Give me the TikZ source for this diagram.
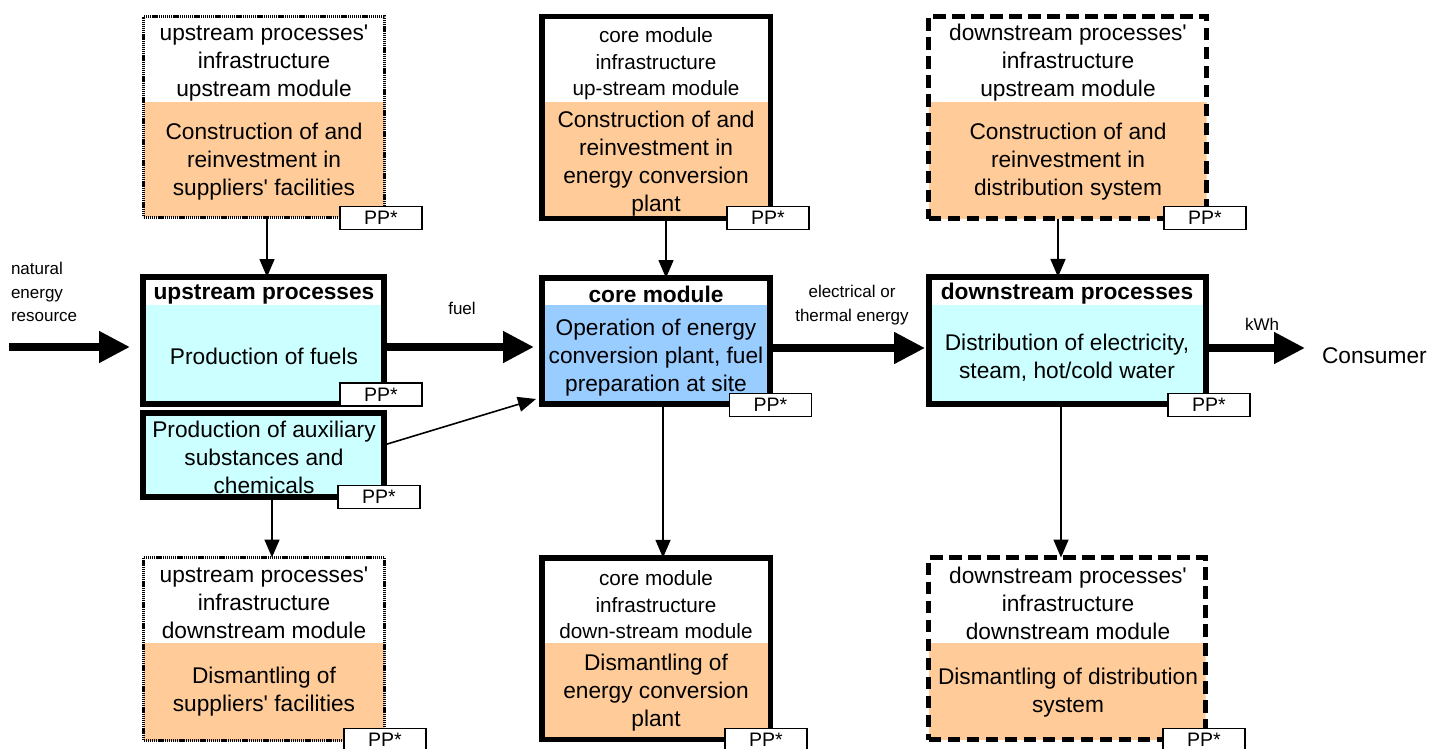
\documentclass[tikz,border=0pt]{standalone}
\usepackage{fontspec}
\setmainfont{Liberation Sans}
\usetikzlibrary{arrows.meta}
\definecolor{peach}{HTML}{FFCC99}
\definecolor{lcyan}{HTML}{CCFFFF}
\definecolor{lblue}{HTML}{99CCFF}
\begin{document}
\begin{tikzpicture}[x=1pt,y=-1pt,
  every node/.style={inner sep=0pt, outer sep=0pt},
  bigtxt/.style={font=\fontsize{22.7}{28}\selectfont, align=center},
  hdrtxt/.style={font=\fontsize{20.7}{26.5}\selectfont, align=center},
  boldtxt/.style={font=\bfseries\fontsize{22.7}{28}\selectfont},
  smalltxt/.style={font=\fontsize{17}{23.5}\selectfont},
  frame/.style={rectangle, draw, fill=white},
  solidframe/.style={frame, line width=5.5pt},
  dotframe/.style={frame, line width=3pt, dash pattern=on 1.3pt off 0.8pt},
  dashframe/.style={frame, line width=5pt, dash pattern=on 12.5pt off 6.5pt},
  lowerfill/.style 2 args={path picture={\fill[#1] ([yshift=-#2]path picture bounding box.north west) rectangle (path picture bounding box.south east);}},
  ppbox/.style={rectangle, draw, line width=1.5pt, fill=white, minimum width=82pt, minimum height=23pt, font=\fontsize{19.5}{21}\selectfont},
  thinarrow/.style={line width=1.6pt, -{Triangle[length=18pt,width=15pt]}},
  bigarrow/.style={line width=7.5pt, -{Triangle[length=31pt,width=30pt]}}
]
\useasboundingbox (0,0) rectangle (1435,749);

% ---------- boxes ----------
\node[dotframe, minimum width=241pt, minimum height=200pt, lowerfill={peach}{85pt}] (ui) at (264,117) {};
\node[solidframe, line width=6pt, minimum width=241pt, minimum height=127pt, lowerfill={lcyan}{28pt}] (up) at (263.5,340.5) {};
\node[solidframe, line width=6pt, fill=lcyan, minimum width=241pt, minimum height=84pt] (aux) at (263.5,455) {};
\node[dotframe, minimum width=241pt, minimum height=183pt, lowerfill={peach}{85.5pt}] (ud) at (264,649) {};

\node[solidframe, minimum width=228.5pt, minimum height=201.5pt, lowerfill={peach}{85.25pt}] (ct) at (656,117.5) {};
\node[solidframe, minimum width=228pt, minimum height=126pt, lowerfill={lblue}{27.25pt}] (core) at (656,341) {};
\node[solidframe, minimum width=228.5pt, minimum height=181.5pt, lowerfill={peach}{85.25pt}] (cb) at (656,648.5) {};

\node[dashframe, minimum width=278pt, minimum height=202pt, lowerfill={peach}{85.5pt}] (dt) at (1067.5,117.5) {};
\node[solidframe, line width=6pt, minimum width=277.4pt, minimum height=126.7pt, lowerfill={lcyan}{28pt}] (down) at (1067.3,340.3) {};
\node[dashframe, minimum width=277pt, minimum height=182pt, lowerfill={peach}{85.5pt}] (db) at (1067,648.5) {};

% ---------- texts ----------
\node[bigtxt] (ui-a) at (264,63) {upstream processes\textquotesingle\\infrastructure\\upstream module};
\node[bigtxt] (ui-b) at (264,162) {Construction of and\\reinvestment in\\suppliers\textquotesingle{} facilities};
\node[boldtxt] (up-a) at (264,294) {upstream processes};
\node[bigtxt] (up-b) at (264,356) {Production of fuels};
\node[bigtxt] (aux-a) at (264,457) {Production of auxiliary\\substances and\\chemicals};
\node[bigtxt] (ud-a) at (264,603) {upstream processes\textquotesingle\\infrastructure\\downstream module};
\node[bigtxt] (ud-b) at (264,692) {Dismantling of\\suppliers\textquotesingle{} facilities};

\node[hdrtxt] (ct-a) at (656,64) {core module\\infrastructure\\up-stream module};
\node[bigtxt] (ct-b) at (656,163.5) {Construction of and\\reinvestment in\\energy conversion\\plant};
\node[boldtxt] (core-a) at (656,294) {core module};
\node[bigtxt] (core-b) at (656,358) {Operation of energy\\conversion plant, fuel\\preparation at site};
\node[hdrtxt] (cb-a) at (656,605) {core module\\infrastructure\\down-stream module};
\node[bigtxt] (cb-b) at (656,693) {Dismantling of\\energy conversion\\plant};

\node[bigtxt] (dt-a) at (1068,63) {downstream processes\textquotesingle\\infrastructure\\upstream module};
\node[bigtxt] (dt-b) at (1068,162) {Construction of and\\reinvestment in\\distribution system};
\node[boldtxt] (down-a) at (1067,294) {downstream processes};
\node[bigtxt] (down-b) at (1067,357.5) {Distribution of electricity,\\steam, hot/cold water};
\node[bigtxt] (db-a) at (1068,603) {downstream processes\textquotesingle\\infrastructure\\downstream module};
\node[bigtxt] (db-b) at (1068,692.5) {Dismantling of distribution\\system};

\node[smalltxt, align=left, anchor=west] (nat) at (11,292) {natural\\energy\\resource};
\node[smalltxt] (fuel) at (462,308) {fuel};
\node[smalltxt, align=center] (elec) at (852,305) {electrical or\\thermal energy};
\node[smalltxt] (kwh) at (1262,324) {kWh};
\node[bigtxt, anchor=west] (cons) at (1322,356) {Consumer};

% ---------- connectors ----------
\coordinate (natS) at (9,347);
\coordinate (flowB) at (0,348);
\draw[bigarrow, shorten >=13pt] (natS) -- (up.west |- natS);
\draw[bigarrow, shorten >=8pt] (up.east |- natS) -- (core.west |- natS);
\draw[bigarrow, shorten >=3.5pt] (core.east |- flowB) -- (down.west |- flowB);
\draw[bigarrow, shorten >=17pt] (down.east |- flowB) -- (cons.west |- flowB);

\draw[thinarrow] (ui.south -| 267,0) -- (up.north -| 267,0);
\draw[thinarrow] (aux.south -| 272,0) -- (ud.north -| 272,0);
\draw[thinarrow] (ct.south -| 666,0) -- (core.north -| 666,0);
\draw[thinarrow] (core.south -| 663,0) -- (cb.north -| 663,0);
\draw[thinarrow] (dt.south -| 1058,0) -- (down.north -| 1058,0);
\draw[thinarrow] (down.south -| 1061,0) -- (db.north -| 1061,0);
\draw[thinarrow] (aux.east |- 0,445) -- ([shift={(-6,-5)}]core.south west);

% ---------- PP* tags ----------
\node[ppbox] (pp1) at (381,218) {PP*};
\node[ppbox] (pp2) at (381,394.5) {PP*};
\node[ppbox] (pp3) at (379,497) {PP*};
\node[ppbox] (pp4) at (385,740) {PP*};
\node[ppbox] (pp5) at (768,218) {PP*};
\node[ppbox] (pp6) at (770.5,405) {PP*};
\node[ppbox] (pp7) at (766,740) {PP*};
\node[ppbox] (pp8) at (1205,218) {PP*};
\node[ppbox] (pp9) at (1209,405) {PP*};
\node[ppbox] (pp10) at (1204,740) {PP*};
\end{tikzpicture}
\end{document}
